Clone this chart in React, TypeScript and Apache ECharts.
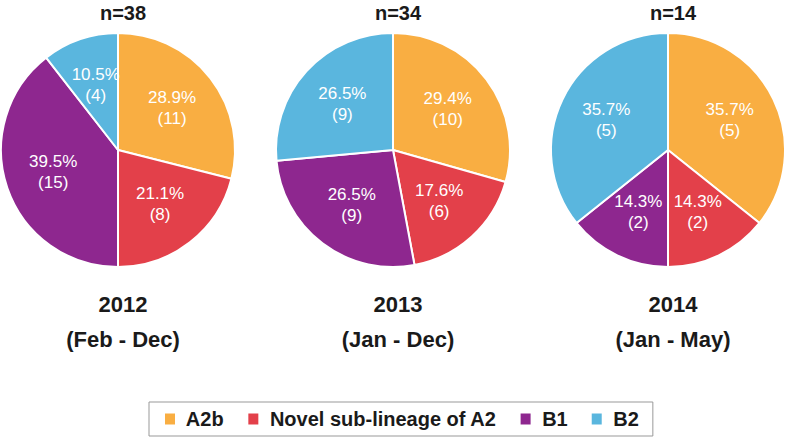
import React, { useEffect, useRef } from "react";
import * as echarts from "echarts";

const categories = ["A2b", "Novel sub-lineage of A2", "B1", "B2"];
const colors = ["#F9AE42", "#E3404A", "#8E278F", "#5AB6DE"];
const counts2012 = [11, 8, 15, 4];
const counts2013 = [10, 6, 9, 9];
const counts2014 = [5, 2, 2, 5];
const nLabels = ["n=38", "n=34", "n=14"];
const yearLabels = ["2012\n(Feb - Dec)", "2013\n(Jan - Dec)", "2014\n(Jan - May)"];

const FONT = "'Liberation Sans', Arial, Helvetica, sans-serif";

export default function App() {
  const ref = useRef<HTMLDivElement>(null);
  useEffect(() => {
    if (!ref.current) return;
    const chart = echarts.init(ref.current, null, { renderer: "svg" });
    const centersX = [118, 393, 668];
    const all = [counts2012, counts2013, counts2014];
    const series: any[] = [];
    all.forEach((vals, i) => {
      series.push({
        type: "pie",
        center: [centersX[i], 150],
        radius: [0, 117],
        startAngle: 90,
        clockwise: true,
        itemStyle: { borderColor: "#fff", borderWidth: 2 },
        label: { show: false },
        labelLine: { show: false },
        emphasis: { disabled: true },
        data: categories.map((c, k) => ({ name: c, value: vals[k], itemStyle: { color: colors[k] } })),
      });
    });
    all.forEach((vals, i) => {
      series.push({
        type: "pie",
        center: [centersX[i], 150],
        radius: [14, 117],
        startAngle: 90,
        clockwise: true,
        silent: true,
        percentPrecision: 1,
        avoidLabelOverlap: false,
        itemStyle: { color: "rgba(0,0,0,0)", borderWidth: 0 },
        label: {
          show: true,
          position: "inside",
          formatter: "{d}%\n({c})",
          color: "#fff",
          fontSize: 17,
          lineHeight: 21,
          fontFamily: FONT,
        },
        labelLine: { show: false },
        emphasis: { disabled: true },
        data: categories.map((c, k) => ({ name: c, value: vals[k] })),
      });
    });
    const titles: any[] = [];
    centersX.forEach((x, i) => {
      titles.push({
        text: nLabels[i],
        left: x,
        top: -2,
        textAlign: "center",
        textStyle: { fontSize: 20, fontWeight: "bold", color: "#1a1a1a", fontFamily: FONT },
      });
      titles.push({
        text: yearLabels[i],
        left: x,
        top: 282,
        textAlign: "center",
        textStyle: { fontSize: 22, fontWeight: "bold", color: "#1a1a1a", fontFamily: FONT, lineHeight: 35 },
      });
    });
    chart.setOption({
      animation: false,
      backgroundColor: "#fff",
      title: titles,
      legend: {
        left: 149,
        top: 402,
        data: categories.map((c, k) => ({ name: c, itemStyle: { color: colors[k] } })),
        formatter: " {name}",
        icon: "rect",
        itemWidth: 12,
        itemHeight: 13,
        itemGap: 22,
        borderColor: "#999",
        borderWidth: 1,
        padding: [7, 14],
        selectedMode: false,
        textStyle: { fontSize: 20, fontWeight: "bold", color: "#1a1a1a", fontFamily: FONT },
      },
      series,
    });
    return () => chart.dispose();
  }, []);
  return (
    <div
      ref={ref}
      style={{ position: "fixed", left: 0, top: 0, width: 787, height: 440 }}
    />
  );
}
